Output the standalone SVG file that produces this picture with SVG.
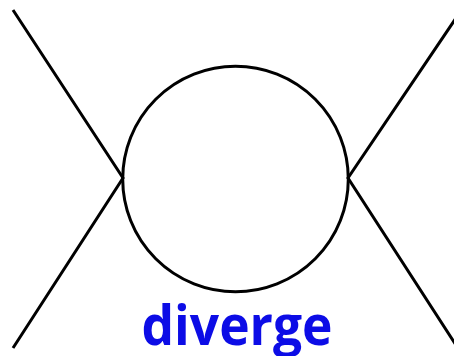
<svg xmlns="http://www.w3.org/2000/svg" width="454" height="356" viewBox="0 0 454 356">
<style>
.ln{fill:none;stroke:#000;stroke-width:3;stroke-linejoin:miter;stroke-linecap:butt}
.lbl{font-family:"Open Sans","Noto Sans",sans-serif;font-weight:bold;font-size:56px;fill:#0c0ce6}
</style>
<rect width="454" height="356" fill="#fff"/>
<g id="connectors">
<polyline class="ln" points="13,10 123,178 13,348"/>
<polyline class="ln" points="456,18 348,178 456,345"/>
</g>
<g id="loop">
<circle class="ln" cx="235.5" cy="179" r="112.8"/>
</g>
<g id="label">
<text class="lbl" x="237" y="345" text-anchor="middle" textLength="191" lengthAdjust="spacingAndGlyphs">diverge</text>
</g>
</svg>
